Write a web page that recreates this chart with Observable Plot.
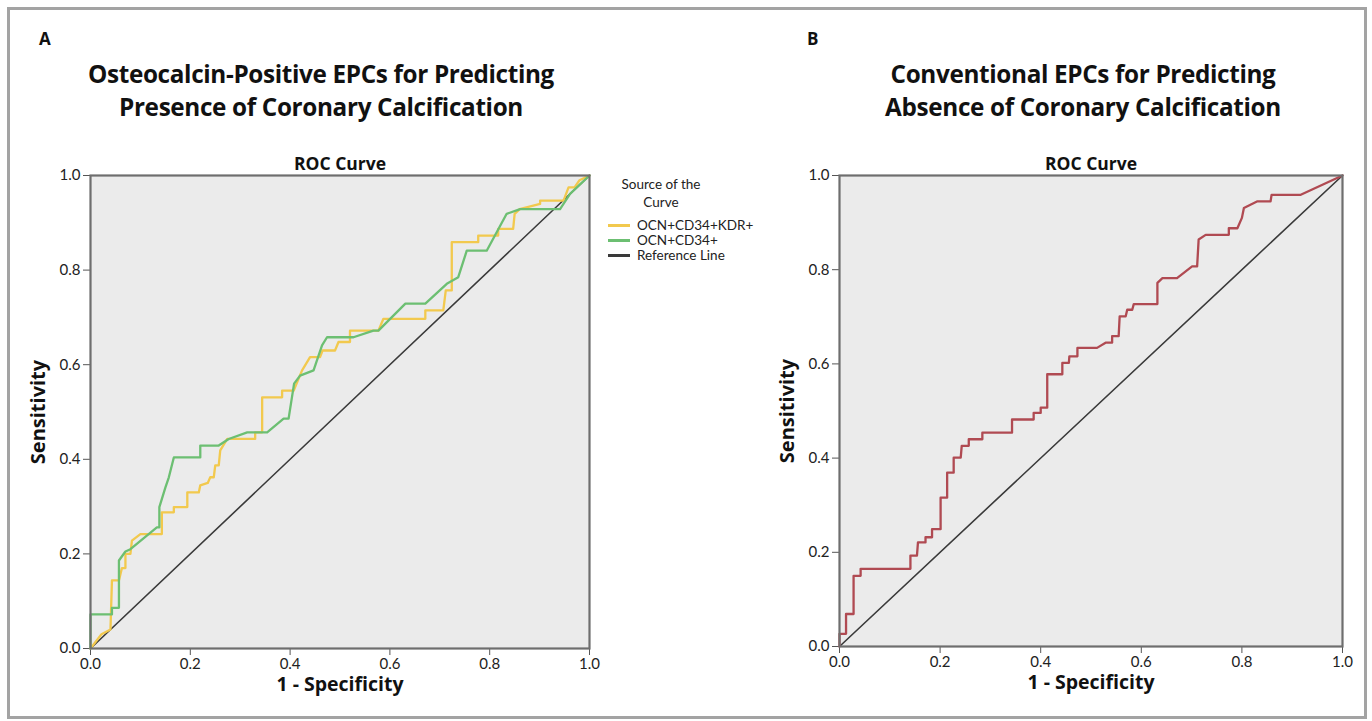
<!DOCTYPE html>
<html>
<head>
<meta charset="utf-8">
<script src="https://cdn.jsdelivr.net/npm/d3@7"></script>
<script src="https://cdn.jsdelivr.net/npm/@observablehq/plot@0.6"></script>
<style>
  html, body { margin: 0; padding: 0; background: #fff; }
  #page { position: relative; width: 1372px; height: 721px; overflow: hidden; font-family: Lato, "Open Sans", sans-serif; color: #111; }
  #frame { position: absolute; left: 7px; top: 7px; width: 1354px; height: 706px; border: 3px solid #a3a3a3; }
  .panel-letter { position: absolute; font-weight: bold; font-size: 17px; font-family: "Open Sans", sans-serif; }
  .title { position: absolute; font-weight: bold; font-size: 24.3px; line-height: normal; text-align: center; width: 640px; font-family: "Open Sans", sans-serif; letter-spacing: -0.35px; white-space: nowrap; }
  .plot { position: absolute; top: 140px; }
  #legend { position: absolute; left: 600px; top: 175px; width: 150px; font-size: 13.5px; line-height: 15px; color: #222; }
  #legend .head { text-align: center; width: 122px; line-height: 18px; }
  #legend .item { display: flex; align-items: center; height: 15px; margin-left: 8px; white-space: nowrap; }
  #legend .sw { width: 22px; height: 3px; margin-right: 7px; flex-shrink: 0; }
</style>
</head>
<body>
<div id="page">
  <div id="frame"></div>
  <div class="panel-letter" style="left:39px; top:27px;">A</div>
  <div class="title" style="left:1px; top:57px;">Osteocalcin-Positive EPCs for Predicting</div>
  <div class="title" style="left:1px; top:90px;">Presence of Coronary Calcification</div>
  <div class="panel-letter" style="left:807px; top:27px;">B</div>
  <div class="title" style="left:763px; top:57px;">Conventional EPCs for Predicting</div>
  <div class="title" style="left:763px; top:90px;">Absence of Coronary Calcification</div>
  <div id="plotA" class="plot" style="left:0px;"></div>
  <div id="plotB" class="plot" style="left:748px;"></div>
  <div id="legend"></div>
</div>
<script>
// ---- Data ----
const tickValues = [0, 0.2, 0.4, 0.6, 0.8, 1.0];

// Panel A: OCN+CD34+KDR+ (yellow)
const kdrFpr = [0, 0.022, 0.04, 0.043, 0.057, 0.063, 0.07, 0.07, 0.08, 0.083, 0.1, 0.143, 0.143, 0.167, 0.167, 0.194, 0.194, 0.217, 0.22, 0.235, 0.24, 0.247, 0.25, 0.257, 0.26, 0.274, 0.33, 0.33, 0.344, 0.344, 0.384, 0.384, 0.407, 0.424, 0.44, 0.46, 0.465, 0.49, 0.497, 0.52, 0.52, 0.577, 0.587, 0.671, 0.671, 0.707, 0.712, 0.724, 0.724, 0.777, 0.777, 0.817, 0.817, 0.847, 0.85, 0.86, 0.901, 0.901, 0.948, 0.958, 0.97, 0.98, 1];
const kdrTpr = [0, 0.03, 0.04, 0.144, 0.144, 0.17, 0.17, 0.2, 0.2, 0.228, 0.242, 0.242, 0.288, 0.288, 0.299, 0.299, 0.33, 0.33, 0.345, 0.35, 0.362, 0.362, 0.387, 0.387, 0.419, 0.443, 0.443, 0.457, 0.457, 0.531, 0.531, 0.545, 0.545, 0.588, 0.616, 0.616, 0.63, 0.63, 0.648, 0.648, 0.672, 0.672, 0.697, 0.697, 0.715, 0.715, 0.757, 0.757, 0.859, 0.859, 0.873, 0.873, 0.887, 0.887, 0.919, 0.929, 0.94, 0.947, 0.947, 0.975, 0.975, 0.99, 1];

// Panel A: OCN+CD34+ (green)
const cd34Fpr = [0, 0, 0.043, 0.043, 0.057, 0.057, 0.07, 0.08, 0.133, 0.138, 0.138, 0.15, 0.157, 0.167, 0.22, 0.22, 0.257, 0.277, 0.314, 0.354, 0.387, 0.397, 0.408, 0.42, 0.447, 0.464, 0.474, 0.527, 0.567, 0.577, 0.631, 0.671, 0.714, 0.737, 0.754, 0.794, 0.834, 0.861, 0.941, 0.961, 1];
const cd34Tpr = [0, 0.072, 0.072, 0.086, 0.086, 0.186, 0.205, 0.21, 0.256, 0.256, 0.299, 0.34, 0.362, 0.404, 0.404, 0.429, 0.429, 0.443, 0.457, 0.457, 0.486, 0.486, 0.56, 0.577, 0.588, 0.641, 0.658, 0.658, 0.672, 0.672, 0.729, 0.729, 0.771, 0.785, 0.841, 0.841, 0.919, 0.929, 0.929, 0.961, 1];

// Panel B: Conventional EPCs (red)
const epcFpr = [0, 0, 0.013, 0.013, 0.028, 0.028, 0.042, 0.042, 0.141, 0.141, 0.154, 0.156, 0.171, 0.171, 0.184, 0.184, 0.201, 0.201, 0.214, 0.214, 0.227, 0.227, 0.241, 0.243, 0.257, 0.257, 0.284, 0.284, 0.343, 0.343, 0.386, 0.386, 0.40, 0.40, 0.413, 0.413, 0.443, 0.443, 0.456, 0.457, 0.473, 0.473, 0.512, 0.529, 0.542, 0.542, 0.555, 0.557, 0.569, 0.572, 0.582, 0.585, 0.632, 0.632, 0.642, 0.671, 0.701, 0.711, 0.714, 0.728, 0.774, 0.774, 0.791, 0.80, 0.804, 0.817, 0.83, 0.857, 0.859, 0.917, 1];
const epcTpr = [0, 0.027, 0.027, 0.069, 0.069, 0.15, 0.15, 0.165, 0.165, 0.193, 0.193, 0.221, 0.221, 0.232, 0.232, 0.249, 0.249, 0.316, 0.316, 0.369, 0.369, 0.401, 0.401, 0.426, 0.426, 0.44, 0.44, 0.454, 0.454, 0.482, 0.482, 0.496, 0.496, 0.507, 0.507, 0.578, 0.578, 0.602, 0.602, 0.616, 0.616, 0.634, 0.634, 0.645, 0.645, 0.659, 0.659, 0.701, 0.701, 0.715, 0.715, 0.727, 0.727, 0.772, 0.782, 0.782, 0.807, 0.807, 0.864, 0.874, 0.874, 0.888, 0.888, 0.91, 0.931, 0.938, 0.945, 0.945, 0.959, 0.959, 1];

// Reference line
const refX = [0, 1];
const refY = [0, 1];

const seriesNames = ["OCN+CD34+KDR+", "OCN+CD34+", "Reference Line"];
const seriesColors = ["#f2c94e", "#6cbf72", "#3a3a3a"];
const epcColor = "#b04a52";

// ---- Helpers ----
const toRows = (xs, ys) => xs.map((x, i) => ({x, y: ys[i]}));
const fmt = d3.format(".1f");
const boldFont = "'Open Sans', sans-serif";

function makePlot(curves, {width, marginLeft, marginRight, marginBottom}) {
  return Plot.plot({
    width,
    height: 568,
    marginLeft,
    marginRight,
    marginTop: 35,
    marginBottom,
    style: {fontFamily: "Lato, 'Open Sans', sans-serif", fontSize: "15px", color: "#222", background: "transparent", overflow: "visible"},
    x: {domain: [0, 1]},
    y: {domain: [0, 1]},
    marks: [
      Plot.frame({fill: "#ebebeb", stroke: "none"}),
      Plot.axisX({ticks: tickValues, tickFormat: fmt, tickSize: 7, tickPadding: 3, label: null, stroke: "#555"}),
      Plot.axisY({ticks: tickValues, tickFormat: fmt, tickSize: 7, tickPadding: 3, label: null, stroke: "#555"}),
      Plot.line(toRows(refX, refY), {x: "x", y: "y", stroke: seriesColors[2], strokeWidth: 1.6}),
      ...curves.map(c => Plot.line(toRows(c.xs, c.ys), {x: "x", y: "y", stroke: c.color, strokeWidth: 2.3})),
      Plot.frame({stroke: "#6e6e6e", strokeWidth: 2.2}),
      Plot.text(["ROC Curve"], {frameAnchor: "top", dy: -18, fontWeight: "bold", fontSize: 17.5, fontFamily: boldFont, fill: "#111"}),
      Plot.text(["1 - Specificity"], {frameAnchor: "bottom", dy: 42, fontWeight: "bold", fontSize: 19.5, fontFamily: boldFont, fill: "#111"}),
      Plot.text(["Sensitivity"], {frameAnchor: "left", textAnchor: "middle", dx: -52, rotate: -90, fontWeight: "bold", fontSize: 20, fontFamily: boldFont, fill: "#111"})
    ]
  });
}

document.getElementById("plotA").appendChild(makePlot([
  {xs: kdrFpr, ys: kdrTpr, color: seriesColors[0]},
  {xs: cd34Fpr, ys: cd34Tpr, color: seriesColors[1]}
], {width: 600, marginLeft: 90, marginRight: 11, marginBottom: 60}));

document.getElementById("plotB").appendChild(makePlot([
  {xs: epcFpr, ys: epcTpr, color: epcColor}
], {width: 600, marginLeft: 91, marginRight: 6, marginBottom: 62}));

// Legend
const legend = document.getElementById("legend");
legend.innerHTML = `<div class="head">Source of the<br>Curve</div>` +
  seriesNames.map((n, i) => `<div class="item"><span class="sw" style="background:${seriesColors[i]}"></span>${n}</div>`).join("");
legend.querySelector(".head").style.marginBottom = "7px";
</script>
</body>
</html>
